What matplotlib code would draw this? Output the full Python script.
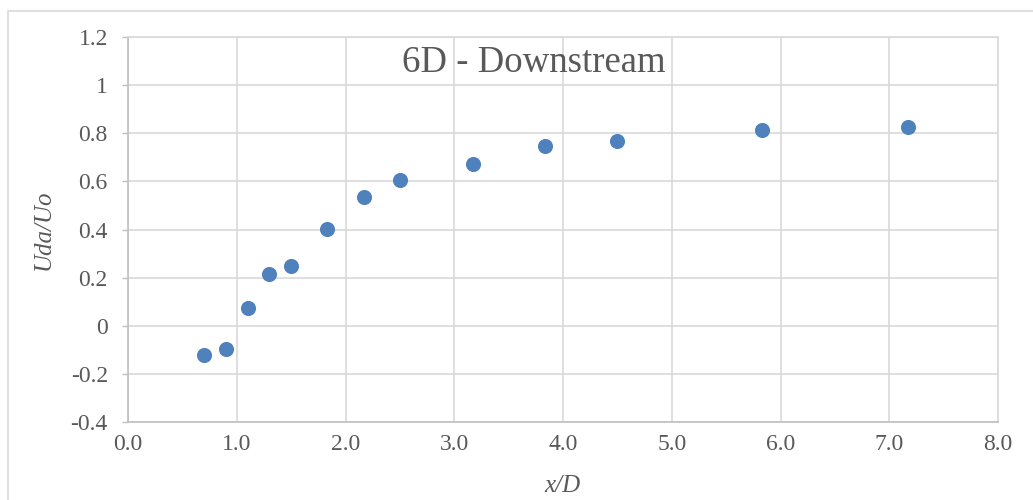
import matplotlib
matplotlib.use("Agg")
import matplotlib.pyplot as plt
from matplotlib.patches import Rectangle
from matplotlib.ticker import FuncFormatter, MultipleLocator

# distanza a valle / diametro e velocita' adimensionale
x_over_d = [0.70, 0.90, 1.10, 1.30, 1.50, 1.83, 2.17, 2.50, 3.17, 3.83, 4.50, 5.83, 7.17]
uda_uo = [-0.122, -0.098, 0.073, 0.217, 0.248, 0.401, 0.535, 0.604, 0.673, 0.747, 0.767, 0.812, 0.828]

title_text = "6D - Downstream"
x_label = "x/D"
y_label = "Uda/Uo"

plt.rcParams["font.family"] = ["Liberation Serif", "DejaVu Serif"]
plt.rcParams["axes.unicode_minus"] = False

text_col = "#595959"
grid_col = "#d9d9d9"
axis_col = "#bfbfbf"

fig = plt.figure(figsize=(10.33, 5.0), dpi=100)
ax = fig.add_axes([128 / 1033, 1 - 422 / 500, 870 / 1033, 385 / 500])

# cornice esterna del grafico
fig.patches.append(Rectangle((7.5 / 1033, -0.2), 1.2, 1 - 10.5 / 500 + 0.2,
                             transform=fig.transFigure, fill=False,
                             edgecolor=grid_col, linewidth=1.2))

ax.scatter(x_over_d, uda_uo, s=118, color="#4f81bd", zorder=3, linewidths=0)

ax.set_xlim(0, 8)
ax.set_ylim(-0.4, 1.2)
ax.xaxis.set_major_locator(MultipleLocator(1.0))
ax.yaxis.set_major_locator(MultipleLocator(0.2))
ax.xaxis.set_major_formatter(FuncFormatter(lambda v, p: f"{v:.1f}"))
ax.yaxis.set_major_formatter(FuncFormatter(lambda v, p: f"{round(v, 1):g}"))

ax.grid(True, color=grid_col, linewidth=1.2, zorder=0)
ax.set_axisbelow(True)
for side in ("top", "right"):
    ax.spines[side].set_color(grid_col)
    ax.spines[side].set_linewidth(1.2)
for side in ("left", "bottom"):
    ax.spines[side].set_color(axis_col)
    ax.spines[side].set_linewidth(1.2)

ax.tick_params(axis="y", length=4.5, width=1.0, color=axis_col,
               labelsize=17, labelcolor=text_col, pad=10)
ax.tick_params(axis="x", length=0, labelsize=17, labelcolor=text_col, pad=9)

ax.set_xlabel(x_label, fontsize=18, style="italic", color=text_col)
ax.set_ylabel(y_label, fontsize=18, style="italic", color=text_col)
ax.xaxis.set_label_coords(0.499, -0.138)
ax.yaxis.set_label_coords(-0.084, 0.5)

ax.text(0.467, 0.909, title_text, transform=ax.transAxes, ha="center",
        va="baseline", fontsize=26.5, color=text_col)

fig.savefig("out.png", dpi=100)
